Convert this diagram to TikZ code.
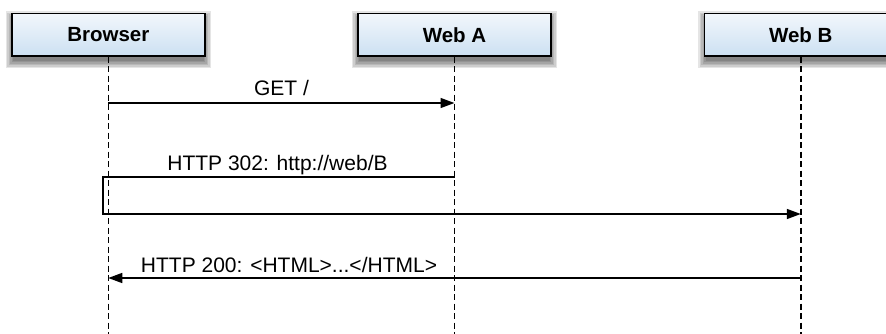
\documentclass[tikz,border=0pt]{standalone}
\usepackage{fontspec}
\setmainfont{Liberation Sans}
\usetikzlibrary{arrows.meta,backgrounds}
\definecolor{boxtop}{HTML}{F2F7FC}
\definecolor{boxbot}{HTML}{CCE0F2}
\begin{document}
\begin{tikzpicture}[x=1pt,y=-1pt,
  actor/.style={draw=black, line width=1.4pt, top color=boxtop, bottom color=boxbot,
    minimum width=193pt, minimum height=42.5pt, inner sep=0pt,
    font=\fontsize{20.5}{24}\selectfont\bfseries},
  shadowlayer/.style={fill=black, fill opacity=0.10},
  life/.style={dash pattern=on 6pt off 3.5pt, line width=1.5pt, black},
  msg/.style={line width=1.5pt, -{Triangle[length=14pt,width=10pt]}},
  lbl/.style={font=\fontsize{21}{25}\selectfont, anchor=base, inner sep=0pt}]
\clip (0,0) rectangle (886,334);
% actors
\node[actor] (browser) at (108.3,34.7) {Browser};
\node[actor] (weba) at (454.5,34.7) {Web A};
\node[actor] (webb) at (800.8,34.7) {Web B};
% shadows
\begin{scope}[on background layer]
\fill[white] (0,0) rectangle (886,334);
\foreach \n in {browser,weba,webb}{
  \foreach \r in {0,1.5,3,4.5,6,7.5}{
    \fill[shadowlayer] ([xshift=-\r pt+2pt, yshift=\r pt-6pt]\n.north west) rectangle ([xshift=\r pt-2pt, yshift=-\r pt-4pt]\n.south east);
  }
}
\end{scope}
% lifeline ends
\coordinate (bEnd) at (browser.south |- 0,336);
\coordinate (aEnd) at (weba.south |- 0,336);
\coordinate (cEnd) at (webb.south |- 0,336);
\draw[life] (browser.south) -- (bEnd);
\draw[life] (weba.south) -- (aEnd);
\draw[life] (webb.south) -- (cEnd);
% message points
\coordinate (b1) at (browser.south |- 0,103);
\coordinate (a1) at (weba.south |- 0,103);
\coordinate (a2) at (weba.south |- 0,177);
\coordinate (act1) at (103,177);
\coordinate (act2) at (103,214);
\coordinate (c3) at (webb.south |- 0,214);
\coordinate (c4) at (webb.south |- 0,278);
\coordinate (b4) at (browser.south |- 0,278);
% messages
\draw[msg] (b1) -- (a1);
\node[lbl] (l1) at (281.5,96) {GET /};
\draw[msg] (a2) -- (act1) -- (act2) -- (c3);
\node[lbl] (l2) at (277.5,170) {HTTP 302: http://web/B};
\draw[msg] (c4) -- (b4);
\node[lbl] (l3) at (289,272) {HTTP 200: <HTML>...</HTML>};
\end{tikzpicture}
\end{document}
